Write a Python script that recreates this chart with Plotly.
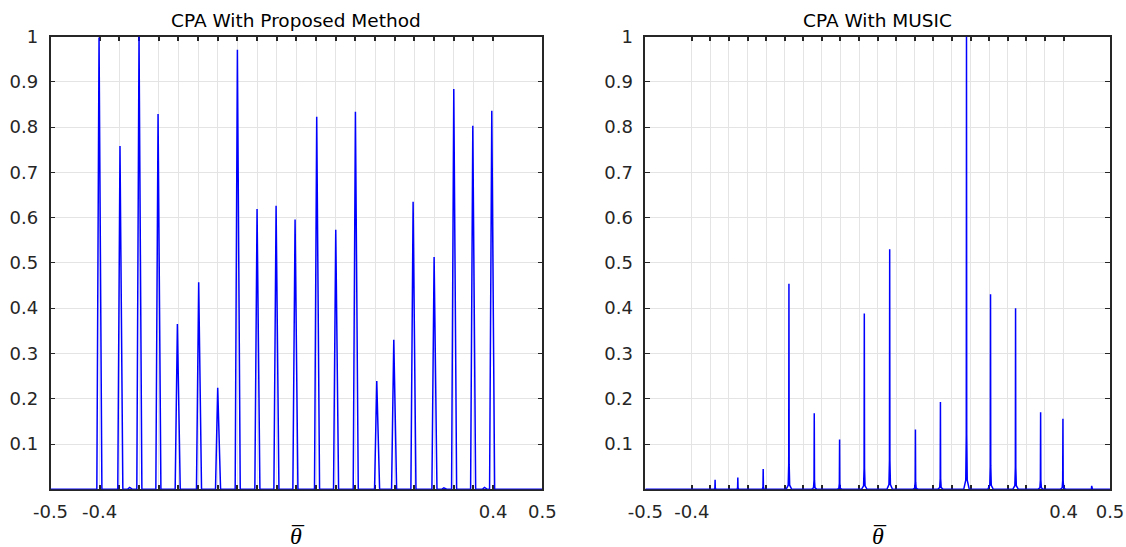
import plotly.graph_objects as go

# ---------------- data ----------------
# CPA with proposed method: peak locations and normalised heights
prop_centers = [-0.4013, -0.3587, -0.32, -0.2813, -0.242, -0.1987, -0.16, -0.12,
                -0.08, -0.0413, -0.0027, 0.0413, 0.08, 0.12, 0.1634, 0.198,
                0.2373, 0.28, 0.32, 0.3587, 0.3973]
prop_heights = [0.998, 0.758, 1.0, 0.829, 0.365, 0.457, 0.224, 0.971,
                0.619, 0.626, 0.596, 0.823, 0.573, 0.834, 0.239, 0.330,
                0.635, 0.513, 0.884, 0.803, 0.836]
# tiny side-lobes near the baseline
prop_bump_centers = [-0.339, 0.2998, 0.3825]
prop_bump_heights = [0.004, 0.003, 0.004]

# CPA with MUSIC: peak locations and normalised heights
music_centers = [-0.3498, -0.3009, -0.2463, -0.1909, -0.1364, -0.0819, -0.0287,
                 0.0259, 0.0813, 0.1351, 0.1912, 0.2429, 0.2968, 0.3507,
                 0.3987, 0.4606]
music_heights = [0.021, 0.026, 0.045, 0.454, 0.168, 0.110, 0.388, 0.530,
                 0.132, 0.193, 1.0, 0.431, 0.400, 0.170, 0.156, 0.0075]

# axis ticks
x_tickvals = [-0.5] + [round(-0.4 + 0.04 * k, 2) for k in range(21)] + [0.5]
x_ticktext = ["-0.5", "-0.4"] + [""] * 19 + ["0.4", "0.5"]
y_tickvals = [0.1, 0.2, 0.3, 0.4, 0.5, 0.6, 0.7, 0.8, 0.9, 1.0]
y_ticktext = ["0.1", "0.2", "0.3", "0.4", "0.5", "0.6", "0.7", "0.8", "0.9", "1"]

titles = ["CPA With Proposed Method", "CPA With MUSIC"]
x_label = "<i>θ</i>"
x_label_bar = "–"

# ---------------- build the spectra polylines ----------------
def triangle_spectrum(centers, heights, wl, wr):
    pts = sorted(zip(centers, heights))
    xs, ys = [-0.5], [0.0]
    for c, h in pts:
        xs += [c - wl, c, c + wr]
        ys += [0.0, h, 0.0]
    xs.append(0.5)
    ys.append(0.0)
    return xs, ys


def spike_spectrum(centers, heights):
    offs = [-0.006, -0.0016, -0.0005, 0.0, 0.0005, 0.0016, 0.006]
    frac = [0.0, 0.02, 0.12, 1.0, 0.12, 0.02, 0.0]
    xs, ys = [-0.5], [0.0]
    for c, h in sorted(zip(centers, heights)):
        for o, f in zip(offs, frac):
            xs.append(c + o)
            ys.append(h * f)
    xs.append(0.5)
    ys.append(0.0)
    return xs, ys


px, py = triangle_spectrum(prop_centers + prop_bump_centers,
                           prop_heights + prop_bump_heights, 0.0045, 0.0058)
mx, my = spike_spectrum(music_centers, music_heights)

BLUE = "#0000ff"
fig = go.Figure()
fig.add_trace(go.Scatter(x=px, y=py, mode="lines", line=dict(color=BLUE, width=1.5),
                         xaxis="x", yaxis="y", showlegend=False, hoverinfo="skip"))
fig.add_trace(go.Scatter(x=mx, y=my, mode="lines", line=dict(color=BLUE, width=1.5),
                         xaxis="x2", yaxis="y2", showlegend=False, hoverinfo="skip"))

AX = "#262626"
TICKFONT = dict(family="DejaVu Sans", size=18, color=AX)
common_x = dict(range=[-0.5, 0.5], tickmode="array", tickvals=x_tickvals,
                ticktext=x_ticktext, ticks="inside", ticklen=5, tickwidth=1.6,
                tickcolor=AX, showline=True, linecolor=AX, linewidth=1.5,
                mirror="ticks", showgrid=True, gridcolor="#e4e4e4", gridwidth=1,
                zeroline=False, tickfont=TICKFONT, layer="below traces",
                ticklabelstandoff=5, fixedrange=True, automargin=False)
common_y = dict(range=[0, 1], tickmode="array", tickvals=y_tickvals,
                ticktext=y_ticktext, ticks="inside", ticklen=5, tickwidth=1.3,
                tickcolor=AX, showline=True, linecolor=AX, linewidth=1.5,
                mirror="ticks", showgrid=True, gridcolor="#e4e4e4", gridwidth=1,
                zeroline=False, tickfont=TICKFONT, layer="below traces",
                ticklabelstandoff=7, fixedrange=True, automargin=False)

dom1 = [0.04485, 0.48162]
dom2 = [0.57309, 0.98579]
ydom = [0.10548, 0.93327]

fig.update_layout(
    width=1126, height=547,
    margin=dict(l=0, r=0, t=0, b=0, autoexpand=False),
    paper_bgcolor="white", plot_bgcolor="white",
    xaxis=dict(domain=dom1, anchor="y", **common_x),
    yaxis=dict(domain=ydom, anchor="x", **common_y),
    xaxis2=dict(domain=dom2, anchor="y2", **common_x),
    yaxis2=dict(domain=ydom, anchor="x2", **common_y),
    showlegend=False,
)

annos = []
for dom, t in zip([dom1, dom2], titles):
    cx = (dom[0] + dom[1]) / 2
    annos.append(dict(text=t, x=cx, y=1 - 20 / 547, xref="paper", yref="paper",
                      xanchor="center", yanchor="middle", showarrow=False,
                      font=dict(family="DejaVu Sans", size=18.5, color="#000000")))
    annos.append(dict(text=x_label, x=cx, y=1 - 536 / 547, xref="paper", yref="paper",
                      xanchor="center", yanchor="middle", showarrow=False,
                      font=dict(family="Liberation Serif", size=24, color="#000000")))
    annos.append(dict(text=x_label_bar, x=cx, y=1 - 523 / 547, xref="paper", yref="paper",
                      xanchor="center", yanchor="middle", showarrow=False, xshift=2,
                      font=dict(family="Liberation Serif", size=24, color="#000000")))
fig.update_layout(annotations=annos)

fig.write_html("out.html",
               config={"displayModeBar": False},
               post_script="document.body.style.margin='0';"
                           "document.body.style.overflow='hidden';")
